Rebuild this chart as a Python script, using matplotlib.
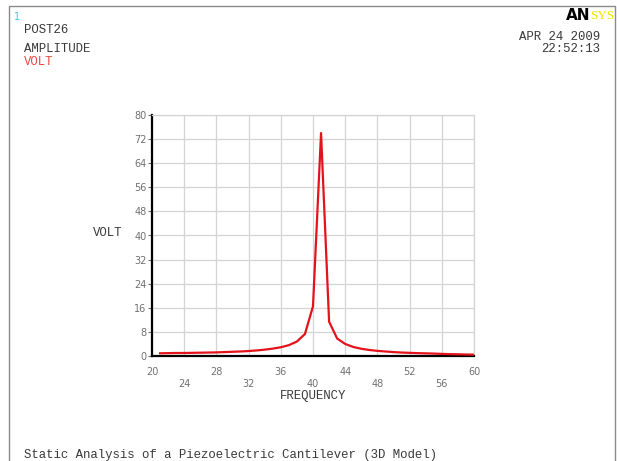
import matplotlib
matplotlib.use('Agg')
import matplotlib.pyplot as plt
from matplotlib.lines import Line2D

# ---------------- data ----------------
freq = list(range(21, 61))
volt = [0.9, 0.95, 1.0, 1.0, 1.05, 1.1, 1.15, 1.2, 1.3, 1.4,
        1.5, 1.65, 1.85, 2.1, 2.45, 2.9, 3.6, 4.8, 7.3, 16.5,
        74.0, 11.4, 5.8, 4.0, 3.0, 2.4, 2.0, 1.7, 1.5, 1.3,
        1.15, 1.05, 0.95, 0.88, 0.8, 0.7, 0.62, 0.56, 0.5, 0.45]

x_upper = [20, 28, 36, 44, 52, 60]
x_lower = [24, 32, 40, 48, 56]
y_ticks = list(range(0, 81, 8))

# ---------------- figure ----------------
W, H = 617, 461
fig = plt.figure(figsize=(W / 100, H / 100), dpi=100)
fig.patch.set_facecolor('white')
ax = fig.add_axes([152 / W, 1 - 356 / H, 322 / W, 241 / H])

ax.plot(freq, volt, color='#e3121b', lw=1.6, zorder=3)

ax.set_xlim(20, 60)
ax.set_ylim(0, 80)
ax.set_xticks(x_upper, labels=[str(v) for v in x_upper])
ax.set_xticks(x_lower, labels=[str(v) for v in x_lower], minor=True)
ax.set_yticks(y_ticks, labels=[str(v) for v in y_ticks])

grid_c = '#d4d4d4'
ax.grid(which='both', color=grid_c, lw=0.9)
ax.set_axisbelow(True)
for s in ['top', 'right']:
    ax.spines[s].set_color(grid_c)
    ax.spines[s].set_linewidth(0.9)
for s in ['left', 'bottom']:
    ax.spines[s].set_color('black')
    ax.spines[s].set_linewidth(1.6)

ax.tick_params(axis='x', which='both', length=0, labelsize=7, labelcolor='#707070')
ax.tick_params(axis='x', which='major', pad=8)
ax.tick_params(axis='x', which='minor', pad=16.5)
ax.tick_params(axis='y', length=3, width=0.8, color='#707070',
               labelsize=7, labelcolor='#707070', pad=1)

# ---------------- texts ----------------
mono = 'Liberation Mono'
fs = 8.9


def ftext(x, y, s, **kw):
    kw.setdefault('family', mono)
    kw.setdefault('fontsize', fs)
    kw.setdefault('color', '#3a3a3a')
    kw.setdefault('va', 'center')
    fig.text(x / W, 1 - y / H, s, **kw)


ftext(17, 17, '1', color='#40c8d8', family='DejaVu Sans', fontsize=7, ha='center')
ftext(24, 30, 'POST26')
ftext(24, 49, 'AMPLITUDE')
ftext(24, 62, 'VOLT', color='#e84a40')
ftext(600, 37, 'APR 24 2009', ha='right')
ftext(600, 49, '22:52:13', ha='right')
ftext(108, 233, 'VOLT', ha='center')
ftext(313, 396, 'FREQUENCY', ha='center')
ftext(24, 455, 'Static Analysis of a Piezoelectric Cantilever (3D Model)')

# ANSYS logo
ftext(590, 16, 'AN', family='DejaVu Sans', fontweight='bold', fontsize=11,
      color='black', ha='right')
ftext(590, 16, 'SYS', family='Liberation Serif', fontsize=9.5,
      color='#f2e300', ha='left')

# frame around the graphics window
fig.add_artist(Line2D([9 / W, 9 / W, 615 / W, 615 / W],
                      [0, 1 - 6 / H, 1 - 6 / H, 0],
                      transform=fig.transFigure, color='#8a8a8a', lw=1))

fig.savefig('out.png', dpi=100, facecolor='white')
